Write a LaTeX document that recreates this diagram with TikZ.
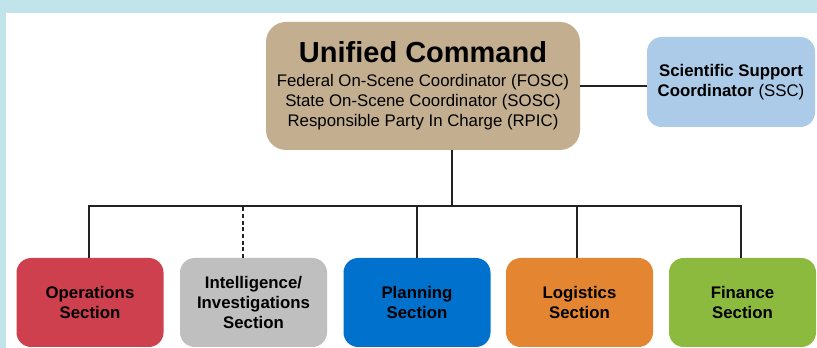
\documentclass[tikz,border=0pt]{standalone}
\usepackage{fontspec}
\setmainfont{Liberation Sans}
\usepackage{tikz}

\definecolor{frame}{HTML}{C0E4E9}
\definecolor{tan}{HTML}{C3AF8F}
\definecolor{skyblue}{HTML}{ABCBE8}
\definecolor{opsred}{HTML}{CF404F}
\definecolor{intelgray}{HTML}{BFBFBF}
\definecolor{planblue}{HTML}{0071CC}
\definecolor{logorange}{HTML}{E38531}
\definecolor{fingreen}{HTML}{8BBA3F}
\definecolor{wire}{HTML}{222222}

\tikzset{
	box/.style={rectangle,rounded corners=11pt,inner sep=0pt,align=center,text=black},
	section/.style={box,minimum width=110.25pt,minimum height=66.75pt,
		font=\fontsize{12.6}{15}\selectfont\bfseries},
	wireline/.style={draw=wire,line width=1.3pt}
}

\begin{document}
\begin{tikzpicture}[x=0.75pt,y=-0.75pt]
		\useasboundingbox (0,0) rectangle (817,348);
		\fill[frame] (0,0) rectangle (817,348);
		\fill[white] (6,13) rectangle (817,348);
		
		\node[box,fill=tan,rounded corners=15pt,minimum width=235.5pt,minimum height=96pt,
			font=\fontsize{12.6}{15}\selectfont] (uc)at(423,86)
			{{\fontsize{21.75}{26}\selectfont\bfseries Unified Command}\\[3pt]
			Federal On-Scene Coordinator (FOSC)\\
			State On-Scene Coordinator (SOSC)\\
			Responsible Party In Charge (RPIC)};
		\node[box,fill=skyblue,minimum width=126pt,minimum height=67.5pt,
			font=\fontsize{12.6}{15}\selectfont] (ssc)at(731,82)
			{\textbf{Scientific Support}\\\textbf{Coordinator} (SSC)};
		
		\node[section,fill=opsred] (ops)at(90,302.5) {Operations\\Section};
		\node[section,fill=intelgray] (intel)at(253.5,302.5) {Intelligence/\\Investigations\\Section};
		\node[section,fill=planblue] (plan)at(417,302.5) {Planning\\Section};
		\node[section,fill=logorange] (log)at(579.5,302.5) {Logistics\\Section};
		\node[section,fill=fingreen] (fin)at(742.5,302.5) {Finance\\Section};
		
		\coordinate (bus)at(452,206);
		\coordinate (intdrop)at(243,258);
		
		\draw[wireline] (uc.east) -- (uc.east -| ssc.west);
		\draw[wireline] (uc.south -| bus) -- (bus);
		\draw[wireline] ([xshift=-0.75pt]ops.north) |- ([xshift=-1.1pt]fin.north |- bus) -- ([xshift=-1.1pt]fin.north);
		\draw[wireline] (plan.north) -- (plan.north |- bus);
		\draw[wireline] ([xshift=-1.9pt]log.north) -- ([xshift=-1.9pt]log.north |- bus);
		\draw[draw=wire,line width=1pt,dash pattern=on 3pt off 2pt] (intdrop) -- (intdrop |- bus);
	\end{tikzpicture}
\end{document}
